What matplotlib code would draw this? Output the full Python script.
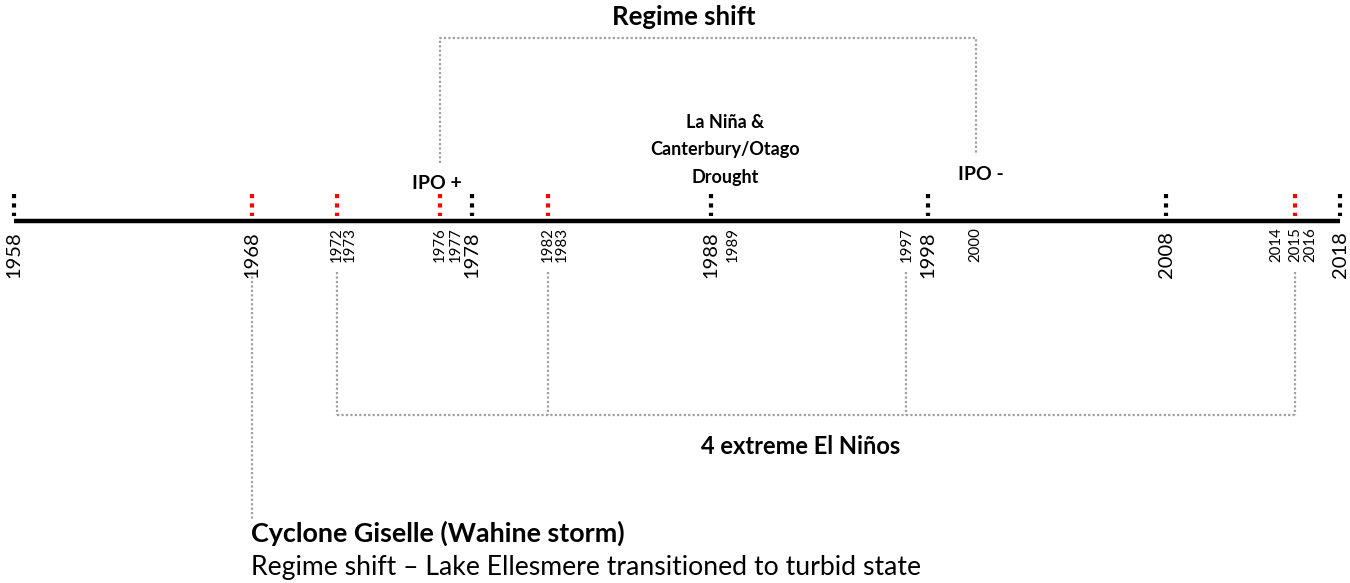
import numpy as np
import matplotlib
matplotlib.use("Agg")
import matplotlib.pyplot as plt
from matplotlib.scale import FuncScale

# ---------------- data ----------------
black_marker_years = [1958, 1978, 1988, 1998, 2008, 2018]
red_marker_years = [1968, 1972, 1976, 1982, 2015]
major_label_years = [1958, 1968, 1978, 1988, 1998, 2008, 2018]
minor_label_years = [1972, 1973, 1976, 1977, 1982, 1983, 1989, 1997, 2000, 2014, 2015, 2016]
el_nino_years = [1972, 1982, 1997, 2015]
ipo_years = [1976, 2000]
ipo_labels = ["IPO +", "IPO -"]
cyclone_year = 1968
drought_year = 1988

title_regime = "Regime shift"
drought_text = "La Niña &\nCanterbury/Otago\nDrought"
elnino_text = "4 extreme El Niños"
cyclone_title = "Cyclone Giselle (Wahine storm)"
cyclone_text = "Regime shift – Lake Ellesmere transitioned to turbid state"

# ---------------- layout: hand-drawn (non-uniform) timeline scale ----------------
W, H = 1350, 583
anchor_years = np.array([1950, 1958, 1968, 1972, 1973, 1976, 1978, 1982, 1983,
                         1988, 1998, 2008, 2015, 2018, 2026], dtype=float)
anchor_px = np.array([-163, 14, 252, 337, 350, 440, 472, 548, 562,
                      711, 928, 1166, 1295, 1340, 1517], dtype=float)

def fwd(x):
    return np.interp(x, anchor_years, anchor_px)

def inv(p):
    return np.interp(p, anchor_px, anchor_years)

FONT = "Lato"
plt.rcParams["font.family"] = [FONT, "DejaVu Sans"]

fig = plt.figure(figsize=(W / 100, H / 100), dpi=100)
ax = fig.add_axes([0, 0, 1, 1])
ax.set_xscale(FuncScale(ax.xaxis, (fwd, inv)))
ax.set_xlim(inv(0), inv(W))
ax.set_ylim(H, 0)
ax.axis("off")

GRAY = "#a0a0a0"
RED = "#ff0000"

# main timeline
ax.plot([major_label_years[0], major_label_years[-1]], [221, 221], color="black",
        lw=3.2, solid_capstyle="butt", zorder=3)

# dotted event markers
for yrs, col in [(black_marker_years, "black"), (red_marker_years, RED)]:
    for yr in yrs:
        ax.plot([yr, yr], [193.5, 216], color=col, lw=3.0,
                linestyle=(0, (1.0, 1.25)), dash_capstyle="butt", zorder=4)

# year labels
for yr in major_label_years:
    ax.text(yr, 231, str(yr), rotation=90, ha="center", va="top",
            fontsize=14.5, color="black")
for yr in minor_label_years:
    ax.text(yr, 227, str(yr), rotation=90, ha="center", va="top",
            fontsize=10.8, color="black")

dot = dict(color=GRAY, lw=1.6, linestyle=(0, (1, 1)), dash_capstyle="butt")

# Regime shift bracket (IPO + / IPO -)
ax.plot([ipo_years[0], ipo_years[0], ipo_years[1], ipo_years[1]],
        [163, 38, 38, 155], **dot)

# El Nino bracket
for yr in el_nino_years:
    ax.plot([yr, yr], [272, 415], **dot)
ax.plot([el_nino_years[0], el_nino_years[-1]], [415, 415], **dot)

# Cyclone line
ax.plot([cyclone_year, cyclone_year], [272, 520], **dot)

# texts (layout in pixels)
def pt(x, y):
    return (x / W, 1 - y / H)

fig.text(*pt(684, 17), title_regime, ha="center", va="center",
         fontsize=18.5, fontweight="bold")
fig.text(*pt(725, 150), drought_text, ha="center", va="center",
         fontsize=13, fontweight="bold", linespacing=1.72)
fig.text(*pt(437, 184), ipo_labels[0], ha="center", va="center",
         fontsize=14, fontweight="bold")
fig.text(*pt(981, 174), ipo_labels[1], ha="center", va="center",
         fontsize=14, fontweight="bold")
fig.text(*pt(801, 446), elnino_text, ha="center", va="center",
         fontsize=17, fontweight="bold")
fig.text(*pt(251, 533), cyclone_title, ha="left", va="center",
         fontsize=19.4, fontweight="bold")
fig.text(*pt(251, 568), cyclone_text, ha="left", va="center",
         fontsize=19.2)

fig.savefig("out.png", dpi=100, facecolor="white")
